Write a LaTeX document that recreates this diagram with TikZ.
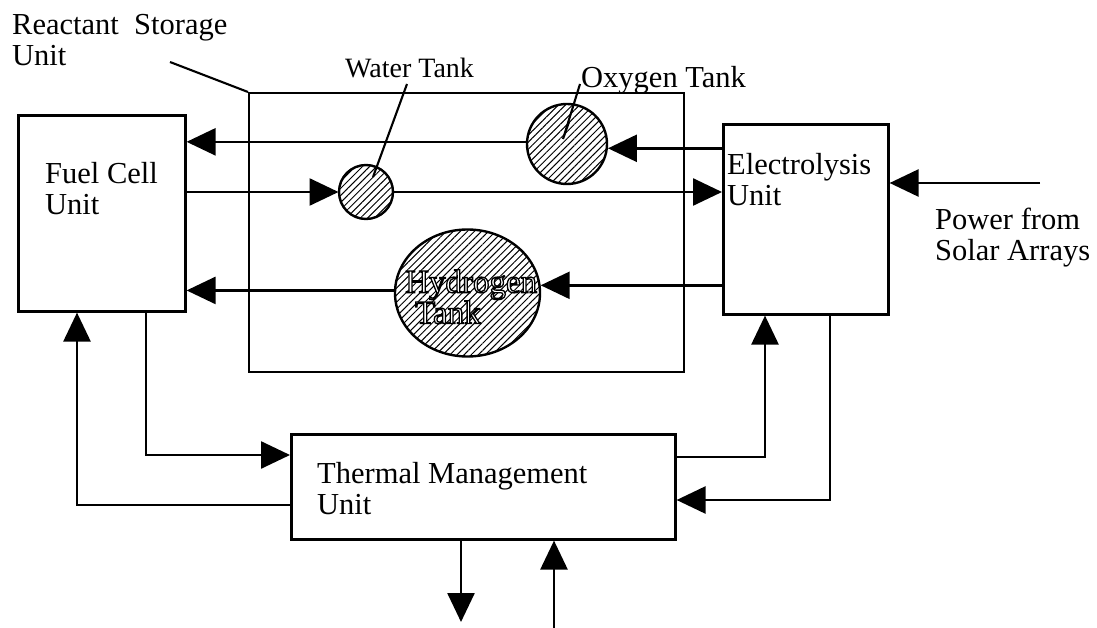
\documentclass[tikz,border=0pt]{standalone}
\usepackage{fontspec}
\setmainfont{Liberation Serif}
\usetikzlibrary{arrows.meta,shapes.geometric,patterns.meta}
\newcommand{\hollowon}{\special{pdf:literal direct 0 0 0 RG 2 Tr 1.3 w}}
\newcommand{\hollowoff}{\special{pdf:literal direct 0 Tr}}
\tikzset{
  box/.style={draw, line width=2.6pt, rectangle, anchor=north west, inner sep=0pt},
  store/.style={draw, line width=2.1pt, rectangle, anchor=north west, inner sep=0pt},
  tank/.style={draw, line width=2.4pt, circle, inner sep=0pt,
    pattern={Lines[angle=45,distance=5pt,line width=1pt]}},
  htank/.style={draw, line width=2.4pt, ellipse, inner sep=0pt,
    pattern={Lines[angle=45,distance=5pt,line width=1pt]}},
  lbl/.style={anchor=north west, inner sep=0pt, align=left,
    font=\fontsize{30.5}{31}\selectfont},
  arr/.style={line width=2.6pt, -{Triangle[length=29pt,width=27pt]}},
  leader/.style={line width=2.1pt}
}
\begin{document}
\begin{tikzpicture}[x=1pt,y=-1pt]
\useasboundingbox (0,0) rectangle (1097,628);

% boxes
\node[store, minimum width=435pt, minimum height=279pt] (rs) at (248,92) {};
\node[box, minimum width=167pt, minimum height=196pt] (fc) at (17,114) {};
\node[box, minimum width=165pt, minimum height=190pt] (el) at (722,123) {};
\node[box, minimum width=384pt, minimum height=105pt] (tm) at (290,433) {};

% tanks
\node[tank, minimum size=54pt] (wt) at (366,192) {};
\node[tank, minimum size=80pt] (ox) at (567,144) {};
\node[htank, minimum width=145pt, minimum height=127pt] (hy) at (467.5,293) {};

% labels
\node[lbl] (rslbl) at (12,14.5) {Reactant\ \ Storage\\Unit};
\node[lbl] (fclbl) at (45,162.5) {Fuel Cell\\Unit};
\node[lbl] (ellbl) at (727,153.5) {Electrolysis\\Unit};
\node[lbl] (tmlbl) at (317,462.5) {Thermal Management\\Unit};
\node[lbl] (pwlbl) at (935,207.5) {Power from\\Solar Arrays};
\node[lbl, font=\fontsize{28}{31}\selectfont] (wtlbl) at (345,58) {Water Tank};
\node[lbl] (oxlbl) at (581,66.5) {Oxygen Tank};
\node[anchor=north west, inner sep=0pt, align=left, font=\fontsize{33}{31}\selectfont]
  (hylbl) at (405,269.5) {\color{white}\hollowon Hydrogen\\\hspace*{10pt}\color{white}\hollowon Tank\hollowoff};

% leaders
\coordinate (rsl) at (170,62);
\draw[leader] (rsl) -- (rs.north west);
\coordinate (wtl) at (407,84);
\coordinate (wte) at (373,177);
\draw[leader] (wtl) -- (wte);
\coordinate (oxl) at (580,84);
\coordinate (oxe) at (563,139);
\coordinate (oxt) at (569,122);
\draw[leader] (oxl) -- (oxe) -- (oxt);

% reactant flows
\draw[arr] (ox.177) -- (ox.177 -| fc.east);
\draw[arr] (ox.-6 -| el.west) -- (ox.-6);
\draw[arr] (wt.west -| fc.east) -- (wt.west);
\draw[arr] (wt.east) -- (wt.east -| el.west);
\draw[arr] (hy.6 -| el.west) -- (hy.6);
\draw[arr] (hy.178) -- (hy.178 -| fc.east);

% power
\coordinate (pw) at (1040,183);
\draw[arr] (pw) -- (pw -| el.east);

% thermal loops
\coordinate (c1) at (146,455);
\draw[arr] (c1 |- fc.south) -- (c1) -- (c1 -| tm.west);
\coordinate (c2) at (77,505);
\draw[arr] (c2 -| tm.west) -- (c2) -- (c2 |- fc.south);
\coordinate (c3) at (765,457);
\draw[arr] (c3 -| tm.east) -- (c3) -- (c3 |- el.south);
\coordinate (c4) at (830,500);
\draw[arr] (c4 |- el.south) -- (c4) -- (c4 -| tm.east);
\coordinate (c5) at (461,622);
\draw[arr] (c5 |- tm.south) -- (c5);
\coordinate (c6) at (554,628);
\draw[arr] (c6) -- (c6 |- tm.south);
\end{tikzpicture}
\end{document}
